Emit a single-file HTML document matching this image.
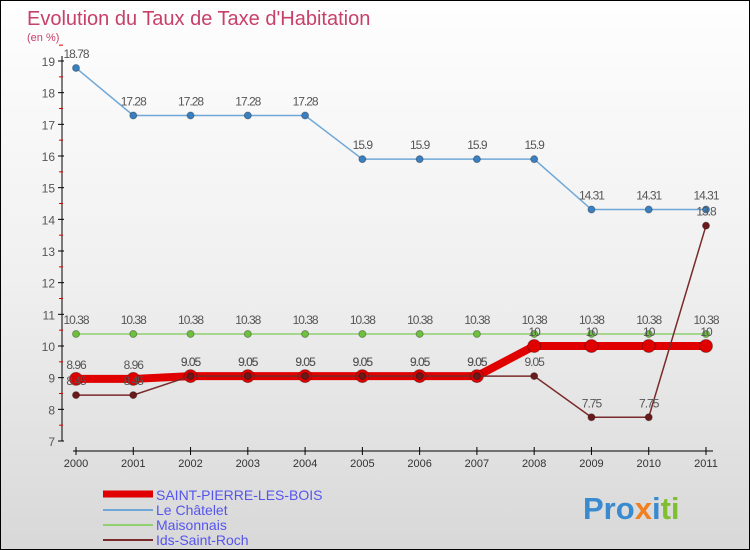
<!DOCTYPE html>
<html><head><meta charset="utf-8"><style>
body{margin:0;}
#c{width:750px;height:550px;position:relative;border:1px solid #000;box-sizing:border-box;background:linear-gradient(#fefefe,#f0f0f0 50%,#d8d8d8);font-family:"Liberation Sans",sans-serif;overflow:hidden}
</style></head><body>
<div id="c">
<svg id="s" width="750" height="550" style="position:absolute;left:0;top:0">
<text x="26" y="24" font-size="20" fill="#c8406a">Evolution du Taux de Taxe d'Habitation</text>
<text x="26" y="40" font-size="11" fill="#c8406a">(en %)</text>
<line x1="61" y1="55" x2="61" y2="440" stroke="#000"/>
<line x1="72" y1="450" x2="712" y2="450" stroke="#000"/>
<g id="legend">
<line x1="102" y1="493" x2="152" y2="493" stroke="#e00000" stroke-width="7"/>
<text x="155" y="499" font-size="14" fill="#5555ee">SAINT-PIERRE-LES-BOIS</text>
<line x1="102" y1="509" x2="152" y2="509" stroke="#6fa8d8" stroke-width="2"/>
<text x="155" y="514" font-size="14" fill="#5555ee">Le Châtelet</text>
<line x1="102" y1="524" x2="152" y2="524" stroke="#90d070" stroke-width="2"/>
<text x="155" y="529" font-size="14" fill="#5555ee">Maisonnais</text>
<line x1="102" y1="539" x2="152" y2="539" stroke="#7a2a2a" stroke-width="2"/>
<text x="155" y="544" font-size="14" fill="#5555ee">Ids-Saint-Roch</text>
</g>
<text x="582" y="518" font-size="31" font-weight="bold" fill="#f0a020"><tspan fill="#3a8ad0">Pro</tspan><tspan fill="#f08020">x</tspan><tspan fill="#3a8ad0">i</tspan><tspan fill="#80c030">ti</tspan></text>
</svg>
</div>
<script>
const years=[2000,2001,2002,2003,2004,2005,2006,2007,2008,2009,2010,2011];
const yTicks=[7,8,9,10,11,12,13,14,15,16,17,18,19];
const saintPierre=[8.96,8.96,9.05,9.05,9.05,9.05,9.05,9.05,10,10,10,10];
const leChatelet=[18.78,17.28,17.28,17.28,17.28,15.9,15.9,15.9,15.9,14.31,14.31,14.31];
const maisonnais=[10.38,10.38,10.38,10.38,10.38,10.38,10.38,10.38,10.38,10.38,10.38,10.38];
const idsSaintRoch=[8.45,8.45,9.05,9.05,9.05,9.05,9.05,9.05,9.05,7.75,7.75,13.8];
const svg=document.getElementById('s');
const NS='http://www.w3.org/2000/svg';
const xS=i=>75+i*(630/(years.length-1));
const yS=v=>440-(v-7)*(380/12);
function mk(t,a){const e=document.createElementNS(NS,t);for(const k in a)e.setAttribute(k,a[k]);svg.appendChild(e);return e;}
yTicks.forEach(v=>{
 const t=mk('line',{x1:57,x2:63,y1:yS(v),y2:yS(v),stroke:'#000'});
 
 
 const m=mk('line',{x1:58,x2:62,y1:yS(v+0.5),y2:yS(v+0.5),stroke:'#e00000'});
 
 
 const l=mk('text',{x:54,y:yS(v)+5,'text-anchor':'end','font-size':12,fill:'#555'});
 l.textContent=v;
 
 
});
years.forEach((y,i)=>{
 const t=mk('line',{x1:xS(i),x2:xS(i),y1:446,y2:454,stroke:'#000'});
 
 
 const l=mk('text',{x:xS(i),y:466,'text-anchor':'middle','font-size':11,fill:'#333'});
 l.textContent=y;
 
 
});
function series(vals,name,color,lw,r,dot){
 const p=mk('polyline',{points:vals.map((v,i)=>xS(i)+','+yS(v)).join(' '),fill:'none',stroke:color,'stroke-width':lw});
 
 
 vals.forEach((v,i)=>{
  const c=mk('circle',{cx:xS(i),cy:yS(v),r:r,fill:dot,stroke:'rgba(0,0,0,0.3)'});
  
  
  const l=mk('text',{x:xS(i),y:yS(v)-10,'text-anchor':'middle','font-size':12,fill:'#555','letter-spacing':'-1'});
  l.textContent=v;
  
  
 });
}
series(leChatelet,'le-chatelet','#6fa8d8',1.5,3.5,'#3a80c0');
series(maisonnais,'maisonnais','#90d070',1.5,3.5,'#70c040');
series(saintPierre,'saint-pierre','#e00000',8,6.5,'#e00000');
series(idsSaintRoch,'ids-saint-roch','#7a2a2a',1.5,3.5,'#6a1a1a');
</script>
</body></html>
